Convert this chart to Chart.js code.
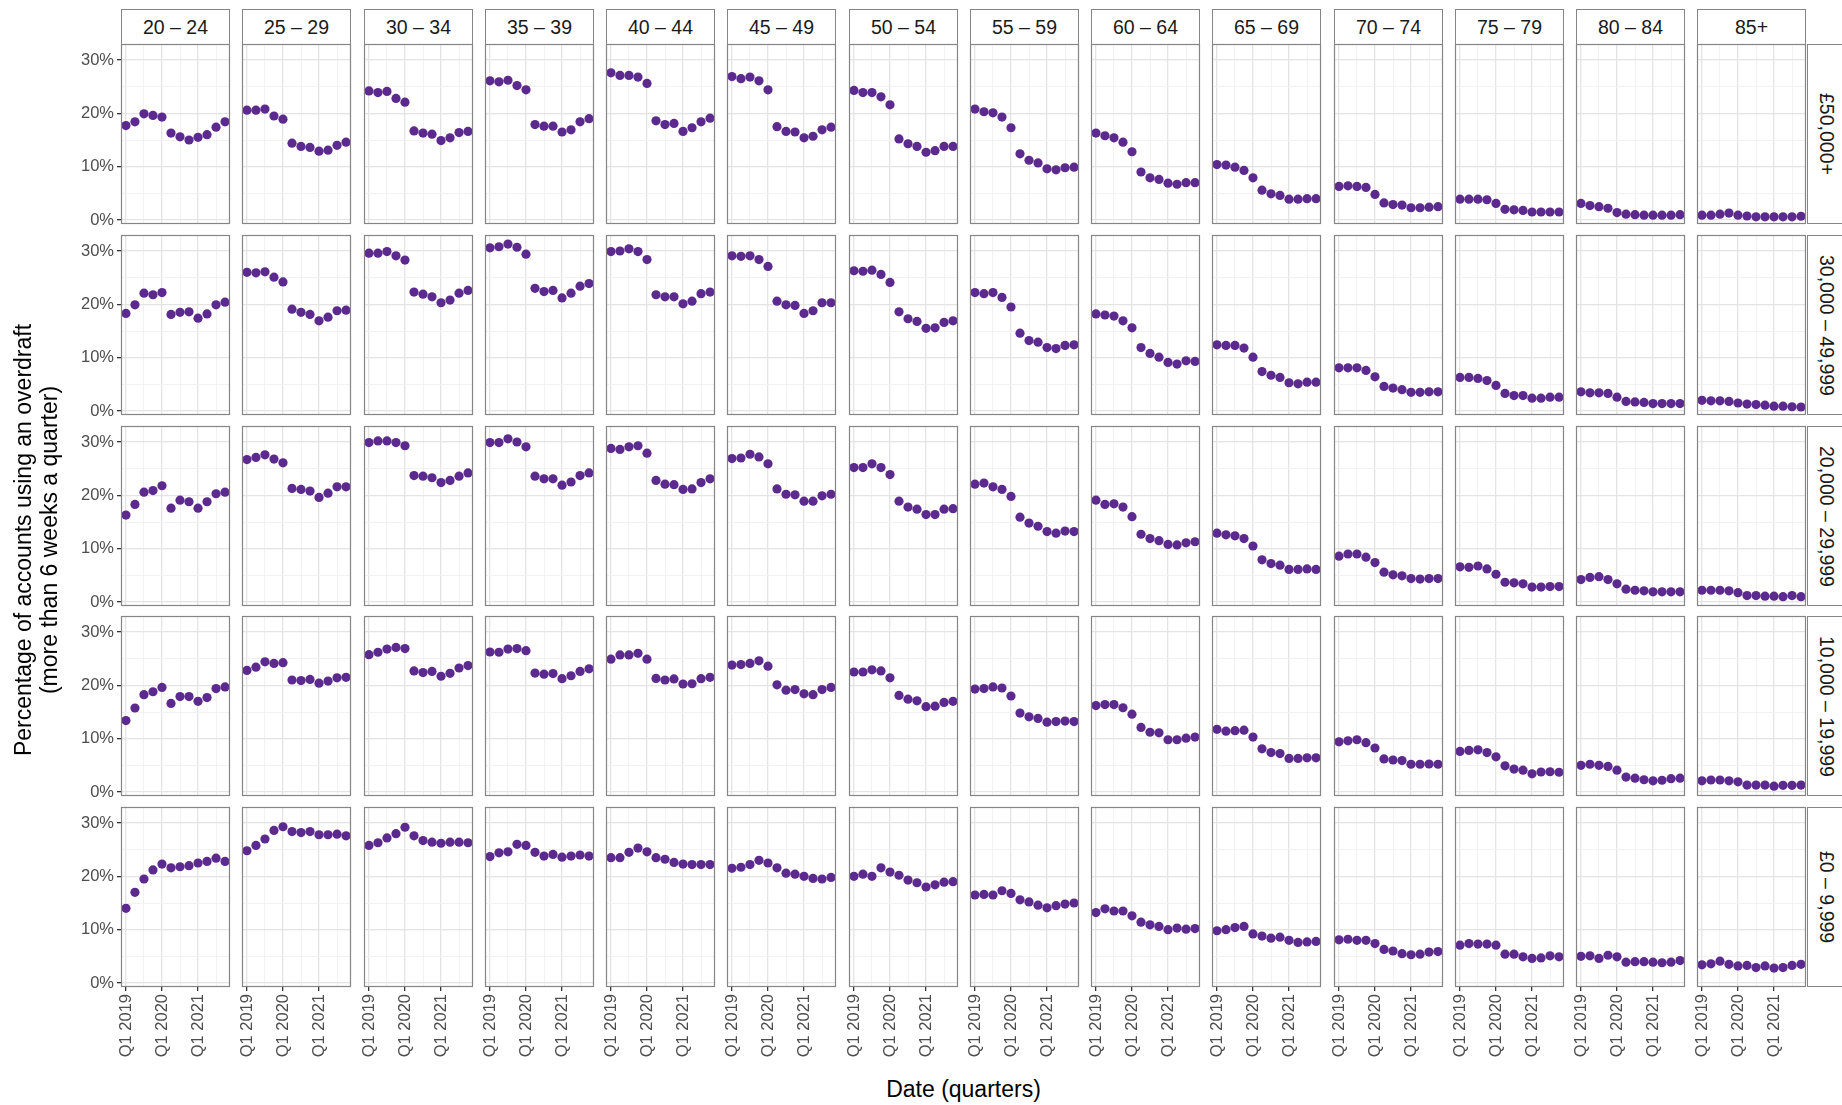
<!DOCTYPE html>
<html>
<head>
<meta charset="utf-8">
<title>Overdraft use by age and income</title>
<script src="https://cdn.jsdelivr.net/npm/chart.js@4.4.1/dist/chart.umd.min.js"></script>
<style>
  body { margin: 0; background: #fff; font-family: "Liberation Sans", Arial, Helvetica, sans-serif; overflow: hidden; }
  #page { position: relative; width: 1842px; height: 1105px; overflow: hidden; }
  #page canvas { position: absolute; }
  .strip { position: absolute; box-sizing: border-box; border: 1px solid #858585; background: #fff;
           color: #1a1a1a; font-size: 19.5px; display: flex; align-items: center; justify-content: center; white-space: nowrap; }
  .rstrip { justify-content: flex-start; padding-left: 7px; border-right: none; }
  .rstrip span { writing-mode: vertical-rl; }
  .axis-title { position: absolute; color: #000; font-size: 23px; text-align: center; white-space: nowrap; line-height: 26px; }
</style>
</head>
<body>
<div id="page"></div>
<script>
(function () {
  'use strict';

  const quarterLabels = ['Q1 2019', 'Q2 2019', 'Q3 2019', 'Q4 2019', 'Q1 2020', 'Q2 2020',
    'Q3 2020', 'Q4 2020', 'Q1 2021', 'Q2 2021', 'Q3 2021', 'Q4 2021'];
  const ageGroups = ['20 – 24', '25 – 29', '30 – 34', '35 – 39', '40 – 44', '45 – 49', '50 – 54',
    '55 – 59', '60 – 64', '65 – 69', '70 – 74', '75 – 79', '80 – 84', '85+'];
  const incomeBands = ['£50,000+', '30,000 – 49,999', '20,000 – 29,999', '10,000 – 19,999', '£0 – 9,999'];
  const yTicks = [0, 5, 10, 15, 20, 25, 30];
  const yTickLabels = ['0%', '', '10%', '', '20%', '', '30%'];
  const dateTickLabels = ['Q1 2019', '', 'Q1 2020', '', 'Q1 2021', ''];

  // % of accounts, one list per age group, Q1 2019 .. Q4 2021
  const band50kPlus = [
    [17.7, 18.4, 19.9, 19.6, 19.3, 16.3, 15.6, 15.0, 15.5, 16.0, 17.4, 18.4],
    [20.6, 20.6, 20.8, 19.5, 18.9, 14.4, 13.8, 13.6, 12.9, 13.1, 14.0, 14.6],
    [24.2, 23.9, 24.1, 22.8, 22.1, 16.7, 16.3, 16.1, 14.9, 15.4, 16.4, 16.6],
    [26.1, 25.9, 26.2, 25.2, 24.4, 17.9, 17.6, 17.6, 16.5, 16.9, 18.4, 19.0],
    [27.6, 27.1, 27.1, 26.8, 25.6, 18.6, 17.9, 18.1, 16.6, 17.3, 18.4, 19.1],
    [26.9, 26.5, 26.8, 26.1, 24.4, 17.5, 16.6, 16.5, 15.4, 15.7, 16.9, 17.4],
    [24.3, 23.9, 23.9, 23.1, 21.6, 15.2, 14.3, 13.8, 12.7, 13.0, 13.8, 13.8],
    [20.8, 20.3, 20.1, 19.3, 17.3, 12.4, 11.2, 10.7, 9.6, 9.4, 9.8, 9.9],
    [16.3, 15.8, 15.4, 14.6, 12.8, 9.0, 7.9, 7.6, 6.9, 6.7, 7.0, 7.0],
    [10.4, 10.3, 9.9, 9.3, 7.9, 5.6, 4.9, 4.6, 3.9, 3.9, 4.0, 4.0],
    [6.3, 6.4, 6.3, 6.1, 4.8, 3.2, 2.9, 2.8, 2.3, 2.3, 2.4, 2.5],
    [3.9, 3.9, 3.9, 3.8, 3.1, 2.0, 1.9, 1.8, 1.5, 1.5, 1.5, 1.5],
    [3.1, 2.7, 2.5, 2.2, 1.4, 1.1, 1.0, 0.9, 0.9, 0.9, 0.9, 1.0],
    [0.9, 0.9, 1.1, 1.3, 0.9, 0.75, 0.6, 0.6, 0.6, 0.6, 0.6, 0.7]
  ];
  const band30kTo50k = [
    [18.3, 19.9, 22.1, 21.8, 22.2, 18.1, 18.5, 18.6, 17.4, 18.2, 19.9, 20.4],
    [26.0, 25.9, 26.1, 25.1, 24.2, 19.1, 18.5, 18.1, 16.9, 17.6, 18.8, 18.9],
    [29.6, 29.6, 29.9, 29.1, 28.3, 22.3, 21.9, 21.4, 20.3, 20.8, 22.1, 22.6],
    [30.6, 30.8, 31.3, 30.7, 29.4, 23.0, 22.4, 22.6, 21.2, 22.1, 23.4, 23.9],
    [29.9, 30.0, 30.4, 29.9, 28.4, 21.8, 21.4, 21.4, 20.1, 20.6, 22.0, 22.3],
    [29.1, 29.0, 29.1, 28.4, 27.1, 20.6, 19.9, 19.8, 18.3, 18.8, 20.3, 20.3],
    [26.3, 26.2, 26.4, 25.6, 24.1, 18.6, 17.3, 16.8, 15.5, 15.6, 16.6, 16.9],
    [22.2, 22.0, 22.2, 21.3, 19.5, 14.6, 13.2, 12.9, 11.9, 11.7, 12.3, 12.4],
    [18.2, 18.0, 17.8, 16.9, 15.6, 11.9, 10.8, 10.1, 9.1, 8.8, 9.4, 9.3],
    [12.4, 12.3, 12.3, 11.8, 10.1, 7.4, 6.7, 6.3, 5.3, 5.1, 5.4, 5.4],
    [8.1, 8.1, 8.1, 7.6, 6.4, 4.6, 4.3, 4.0, 3.5, 3.5, 3.6, 3.6],
    [6.3, 6.3, 6.1, 5.7, 4.8, 3.3, 2.9, 2.9, 2.4, 2.4, 2.6, 2.6],
    [3.6, 3.4, 3.4, 3.3, 2.6, 1.8, 1.7, 1.6, 1.4, 1.4, 1.4, 1.4],
    [2.0, 1.9, 1.9, 1.8, 1.5, 1.3, 1.2, 1.1, 0.9, 0.9, 0.8, 0.75]
  ];
  const band20kTo30k = [
    [16.3, 18.3, 20.6, 20.9, 21.8, 17.6, 19.1, 18.8, 17.6, 18.8, 20.3, 20.6],
    [26.7, 27.1, 27.6, 26.8, 26.1, 21.3, 21.1, 20.8, 19.6, 20.4, 21.6, 21.6],
    [29.9, 30.2, 30.2, 29.9, 29.3, 23.7, 23.6, 23.3, 22.4, 22.8, 23.6, 24.2],
    [29.9, 29.9, 30.6, 30.0, 29.1, 23.6, 23.1, 23.1, 21.9, 22.5, 23.7, 24.2],
    [28.8, 28.6, 29.1, 29.3, 27.9, 22.8, 22.1, 22.0, 21.1, 21.2, 22.4, 23.1],
    [26.9, 27.0, 27.7, 27.2, 25.9, 21.2, 20.2, 20.1, 18.9, 18.9, 19.9, 20.2],
    [25.2, 25.2, 25.9, 25.2, 23.9, 18.9, 17.8, 17.4, 16.4, 16.4, 17.4, 17.5],
    [22.1, 22.3, 21.6, 21.1, 19.8, 15.9, 14.8, 14.2, 13.2, 12.9, 13.3, 13.2],
    [19.1, 18.3, 18.4, 17.8, 16.0, 12.7, 11.9, 11.5, 10.8, 10.7, 11.1, 11.3],
    [12.9, 12.6, 12.4, 11.9, 10.5, 7.9, 7.2, 6.9, 6.1, 6.1, 6.2, 6.1],
    [8.6, 9.0, 9.0, 8.4, 7.4, 5.6, 5.1, 4.9, 4.4, 4.3, 4.4, 4.4],
    [6.6, 6.5, 6.75, 6.2, 5.2, 3.7, 3.6, 3.4, 2.8, 2.8, 2.9, 2.9],
    [4.2, 4.6, 4.75, 4.2, 3.4, 2.4, 2.2, 2.1, 1.9, 1.9, 1.9, 1.9],
    [2.2, 2.2, 2.2, 2.1, 1.75, 1.2, 1.2, 1.1, 1.1, 1.0, 1.2, 1.0]
  ];
  const band10kTo20k = [
    [13.4, 15.75, 18.25, 18.8, 19.6, 16.6, 17.9, 17.9, 17.0, 17.7, 19.4, 19.7],
    [22.8, 23.4, 24.4, 24.1, 24.25, 21.0, 20.9, 21.1, 20.4, 20.8, 21.4, 21.5],
    [25.75, 26.2, 26.8, 27.1, 26.9, 22.7, 22.4, 22.6, 21.7, 22.25, 23.25, 23.7],
    [26.25, 26.2, 26.8, 26.9, 26.5, 22.3, 22.1, 22.2, 21.25, 21.8, 22.6, 23.1],
    [24.9, 25.7, 25.7, 26.0, 24.9, 21.3, 21.0, 21.2, 20.25, 20.3, 21.25, 21.5],
    [23.8, 23.9, 24.1, 24.6, 23.6, 20.1, 19.1, 19.2, 18.4, 18.25, 19.2, 19.6],
    [22.5, 22.5, 22.9, 22.7, 21.4, 18.1, 17.4, 17.1, 16.0, 16.1, 16.8, 17.0],
    [19.3, 19.4, 19.7, 19.5, 18.0, 14.8, 14.1, 13.8, 13.1, 13.2, 13.3, 13.2],
    [16.2, 16.4, 16.4, 15.8, 14.6, 12.1, 11.2, 11.1, 9.8, 9.8, 10.1, 10.3],
    [11.75, 11.4, 11.5, 11.6, 10.3, 8.1, 7.4, 7.2, 6.3, 6.3, 6.4, 6.4],
    [9.4, 9.6, 9.8, 9.25, 8.25, 6.2, 6.0, 5.9, 5.2, 5.2, 5.25, 5.2],
    [7.6, 7.8, 7.9, 7.4, 6.6, 4.9, 4.3, 4.1, 3.4, 3.75, 3.8, 3.7],
    [5.0, 5.2, 5.0, 4.8, 4.1, 2.8, 2.6, 2.3, 2.1, 2.2, 2.5, 2.6],
    [2.1, 2.25, 2.25, 2.1, 1.9, 1.3, 1.3, 1.3, 1.1, 1.25, 1.25, 1.3]
  ];
  const band0kTo10k = [
    [14.0, 17.0, 19.5, 21.2, 22.3, 21.6, 21.8, 22.0, 22.5, 22.8, 23.4, 22.8],
    [24.8, 25.8, 27.0, 28.6, 29.3, 28.4, 28.2, 28.4, 27.8, 27.8, 27.9, 27.6],
    [25.8, 26.3, 27.2, 28.0, 29.2, 27.6, 26.7, 26.4, 26.2, 26.4, 26.4, 26.3],
    [23.7, 24.4, 24.6, 26.0, 25.8, 24.5, 23.8, 24.1, 23.6, 23.8, 24.0, 23.8],
    [23.5, 23.5, 24.5, 25.3, 24.6, 23.5, 23.2, 22.6, 22.3, 22.2, 22.2, 22.2],
    [21.5, 21.7, 22.2, 23.0, 22.5, 21.6, 20.6, 20.4, 20.0, 19.6, 19.5, 19.8],
    [20.0, 20.4, 20.0, 21.6, 20.8, 20.2, 19.3, 18.8, 18.0, 18.4, 18.9, 19.0],
    [16.5, 16.6, 16.5, 17.3, 16.8, 15.6, 15.2, 14.6, 14.1, 14.5, 14.8, 15.0],
    [13.2, 13.9, 13.5, 13.5, 12.6, 11.4, 10.9, 10.6, 10.0, 10.3, 10.1, 10.2],
    [9.8, 10.0, 10.4, 10.6, 9.2, 8.8, 8.4, 8.6, 8.0, 7.6, 7.7, 7.8],
    [8.1, 8.2, 8.0, 8.0, 7.4, 6.3, 6.0, 5.5, 5.3, 5.4, 5.8, 5.9],
    [7.1, 7.4, 7.3, 7.3, 7.1, 5.4, 5.4, 4.9, 4.6, 4.7, 5.1, 4.9],
    [5.0, 5.1, 4.6, 5.2, 4.9, 3.9, 4.0, 4.0, 3.9, 3.8, 3.9, 4.2],
    [3.4, 3.6, 4.1, 3.5, 3.2, 3.3, 2.9, 3.2, 2.8, 2.9, 3.3, 3.5]
  ];
  const bandValues = [band50kPlus, band30kTo50k, band20kTo30k, band10kTo20k, band0kTo10k];

  const FONT = '"Liberation Sans", Arial, Helvetica, sans-serif';
  const POINT_COLOUR = '#5c2a8e';
  const FRAME_COLOUR = '#858585';

  // facet geometry
  const firstLeft = 121;
  const colPitch = 121.26;
  const panelW = 109;
  const firstTop = 44;
  const rowPitch = 190.8;
  const panelH = 180;
  const yAxisW = 66;
  const xAxisH = 80;
  const sideMargin = 12;
  const vMargin = 10;
  const colLeft = (c) => Math.round(firstLeft + c * colPitch);
  const rowTop = (r) => Math.round(firstTop + r * rowPitch);

  const page = document.getElementById('page');

  const panelFrame = {
    id: 'panelFrame',
    afterDatasetsDraw(chart) {
      const a = chart.chartArea;
      const ctx = chart.ctx;
      ctx.save();
      ctx.strokeStyle = FRAME_COLOUR;
      ctx.lineWidth = 1.2;
      ctx.strokeRect(a.left + 0.5, a.top + 0.5, a.right - a.left - 1, a.bottom - a.top - 1);
      ctx.restore();
    }
  };

  function addDiv(cls, left, top, width, height, html) {
    const div = document.createElement('div');
    div.className = cls;
    Object.assign(div.style, { left: left + 'px', top: top + 'px', width: width + 'px', height: height + 'px' });
    div.innerHTML = html;
    page.appendChild(div);
    return div;
  }

  function makePanel(r, c) {
    const isLeft = c === 0;
    const isBottom = r === incomeBands.length - 1;
    const canvas = document.createElement('canvas');
    const axisW = isLeft ? yAxisW : 0;
    const padBottom = isBottom ? 0 : vMargin;
    canvas.width = panelW + axisW + 2 * sideMargin;
    canvas.height = vMargin + panelH + (isBottom ? xAxisH : 0) + padBottom;
    canvas.style.left = (colLeft(c) - axisW - sideMargin) + 'px';
    canvas.style.top = (rowTop(r) - vMargin) + 'px';
    page.appendChild(canvas);

    const values = bandValues[r][c];
    const points = values.map((v, i) => ({ x: i + 1, y: v }));
    const xGridValues = quarterLabels.map((q, i) => i + 1).filter((x) => (x - 1) % 2 === 0);

    new Chart(canvas.getContext('2d'), {
      type: 'scatter',
      data: {
        datasets: [{
          label: incomeBands[r] + ' ' + ageGroups[c],
          data: points,
          pointRadius: 4.6,
          pointHoverRadius: 4.6,
          backgroundColor: POINT_COLOUR,
          borderWidth: 0
        }]
      },
      plugins: [panelFrame],
      options: {
        responsive: false,
        animation: false,
        devicePixelRatio: 1,
        events: [],
        layout: { padding: { left: sideMargin, right: sideMargin, top: vMargin, bottom: padBottom }, autoPadding: false },
        plugins: { legend: { display: false }, tooltip: { enabled: false } },
        scales: {
          x: {
            type: 'linear',
            min: 0.45,
            max: quarterLabels.length + 0.55,
            afterBuildTicks: (scale) => { scale.ticks = xGridValues.map((v) => ({ value: v })); },
            afterFit: (scale) => {
              scale.height = isBottom ? xAxisH : 0;
              scale.paddingLeft = 0;
              scale.paddingRight = 0;
            },
            border: { display: false },
            grid: {
              color: (ctx) => ((ctx.tick.value - 1) % 4 === 0 ? '#e4e4e4' : '#f1f1f1'),
              lineWidth: (ctx) => ((ctx.tick.value - 1) % 4 === 0 ? 1.3 : 0.9),
              drawTicks: isBottom,
              tickLength: 4,
              tickColor: (ctx) => ((ctx.tick.value - 1) % 4 === 0 ? '#333' : 'rgba(0,0,0,0)')
            },
            ticks: {
              display: isBottom,
              autoSkip: false,
              minRotation: 90,
              maxRotation: 90,
              padding: 3,
              color: '#4d4d4d',
              font: { size: 16.5, family: FONT },
              callback: (v) => dateTickLabels[xGridValues.indexOf(v)] || ''
            }
          },
          y: {
            type: 'linear',
            min: -0.75,
            max: 33.0,
            afterBuildTicks: (scale) => { scale.ticks = yTicks.map((v) => ({ value: v })); },
            afterFit: (scale) => {
              scale.width = axisW;
              scale.paddingTop = 0;
              scale.paddingBottom = 0;
            },
            border: { display: false },
            grid: {
              color: (ctx) => (ctx.tick.value % 10 === 0 ? '#e4e4e4' : '#f1f1f1'),
              lineWidth: (ctx) => (ctx.tick.value % 10 === 0 ? 1.3 : 0.9),
              drawTicks: isLeft,
              tickLength: 4,
              tickColor: (ctx) => (ctx.tick.value % 10 === 0 ? '#333' : 'rgba(0,0,0,0)')
            },
            ticks: {
              display: isLeft,
              autoSkip: false,
              padding: 3,
              color: '#4d4d4d',
              font: { size: 16.5, family: FONT },
              callback: (v) => yTickLabels[yTicks.indexOf(v)] || ''
            }
          }
        }
      }
    });
  }

  function init() {
    ageGroups.forEach((age, c) => {
      addDiv('strip', colLeft(c), 9, panelW, firstTop - 9 + 1, age);
    });
    incomeBands.forEach((band, r) => {
      addDiv('strip rstrip', colLeft(ageGroups.length - 1) + panelW + 1, rowTop(r), 70, panelH, `<span>${band}</span>`);
    });
    incomeBands.forEach((band, r) => {
      ageGroups.forEach((age, c) => makePanel(r, c));
    });

    const panelsRight = colLeft(ageGroups.length - 1) + panelW;
    addDiv('axis-title', firstLeft, 1076, panelsRight - firstLeft, 26, 'Date (quarters)');

    const yTitle = addDiv('axis-title', 0, 0, 600, 52,
      'Percentage of accounts using an overdraft<br>(more than 6 weeks a quarter)');
    const midY = 540;
    yTitle.style.left = (36 - 300) + 'px';
    yTitle.style.top = (midY - 26) + 'px';
    yTitle.style.transform = 'rotate(-90deg)';
  }

  init();
})();
</script>
</body>
</html>
